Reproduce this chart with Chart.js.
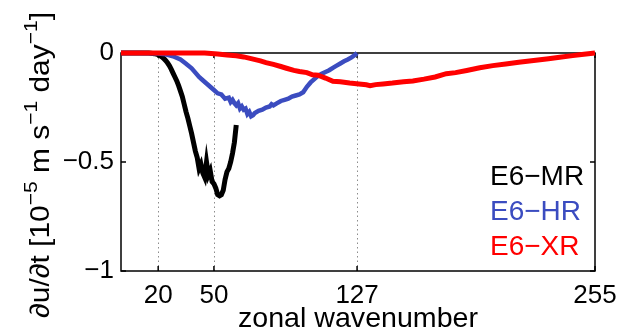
<!DOCTYPE html>
<html>
<head>
<meta charset="utf-8">
<script src="https://cdn.jsdelivr.net/npm/chart.js@4.4.0/dist/chart.umd.min.js"></script>
<style>
    html, body { margin: 0; padding: 0; background: #fff; }
</style>
</head>
<body>
<canvas id="chart" width="638" height="332"></canvas>
<script>
// series names and colours
const seriesNames = ['E6\u2212MR', 'E6\u2212HR', 'E6\u2212XR'];
const seriesColors = ['#000000', '#3b4cc0', '#ff0000'];
const seriesWidths = [5, 4.5, 5];

// E6-MR
const mrWave = [0, 15, 16, 17, 18, 19, 20, 21, 22, 23, 24, 25, 26, 27, 28, 29, 30, 31, 32, 33, 34, 35, 36, 37, 38, 39, 40,
    41, 42, 43, 44, 45, 46, 47, 48, 49, 50, 51, 52, 53, 54, 55, 56, 57, 58, 59, 60, 61, 62];
const mrRate = [0, 0, -0.001, -0.002, -0.003, -0.005, -0.008, -0.012, -0.018, -0.025, -0.034, -0.045, -0.058, -0.074, -0.092, -0.11, -0.128, -0.15, -0.175, -0.2, -0.235, -0.27, -0.3, -0.335, -0.37, -0.41, -0.45,
    -0.48, -0.53, -0.51, -0.55, -0.57, -0.5, -0.56, -0.54, -0.59, -0.6, -0.62, -0.65, -0.655, -0.65, -0.63, -0.58, -0.545, -0.53, -0.5, -0.46, -0.41, -0.33];

// E6-HR
const hrWave = [0, 10, 20, 24, 28, 32, 35, 38, 40, 42, 44, 46, 48, 50, 52, 54, 55, 56, 58, 59, 60, 61, 62, 63, 64, 65, 66, 67, 68, 69, 70,
    71, 72, 74, 76, 78, 80, 81, 82, 84, 86, 88, 90, 92, 94, 96, 98, 100, 102, 104, 106, 108, 110, 112, 114, 116, 118, 120, 122, 124, 126, 127];
const hrRate = [0, 0, -0.002, -0.006, -0.015, -0.03, -0.049, -0.07, -0.09, -0.11, -0.125, -0.14, -0.155, -0.17, -0.185, -0.19, -0.2, -0.21, -0.205, -0.225, -0.215, -0.23, -0.24, -0.23, -0.255, -0.245, -0.26, -0.255, -0.28, -0.27, -0.29,
    -0.285, -0.275, -0.265, -0.26, -0.25, -0.245, -0.235, -0.24, -0.23, -0.22, -0.215, -0.21, -0.2, -0.195, -0.19, -0.18, -0.155, -0.135, -0.12, -0.105, -0.095, -0.087, -0.079, -0.068, -0.058, -0.048, -0.038, -0.03, -0.02, -0.008, 0];

// E6-XR
const xrWave = [0, 45, 52, 57, 62, 66, 70, 75, 78, 82, 86, 89, 93, 96, 100, 103, 106, 110, 114, 118, 123, 128, 132, 134, 137, 141, 146, 152,
    157, 163, 169, 175, 180, 186, 193, 200, 207, 214, 222, 230, 237, 243, 249, 255];
const xrRate = [0, 0, -0.005, -0.009, -0.013, -0.018, -0.026, -0.036, -0.044, -0.052, -0.062, -0.07, -0.08, -0.085, -0.09, -0.1, -0.102, -0.115, -0.13, -0.132, -0.138, -0.142, -0.146, -0.15, -0.145, -0.142, -0.138, -0.132,
    -0.128, -0.12, -0.11, -0.095, -0.09, -0.08, -0.068, -0.058, -0.05, -0.042, -0.034, -0.026, -0.018, -0.012, -0.006, 0];

// axes
const xTicks = [20, 50, 127, 255];
const yTicks = [0, -0.5, -1];
const guideWaves = [20, 50, 127];
const xTitle = 'zonal wavenumber';
const yTitle = [
    { text: '\u2202u/\u2202t [10' }, { text: '\u22125', sup: true },
    { text: ' m s' }, { text: '\u22121', sup: true },
    { text: ' day' }, { text: '\u22121', sup: true },
    { text: ']' }
];

const fontFamily = "'Liberation Sans', Arial, sans-serif";
const seriesWaves = [mrWave, hrWave, xrWave];
const seriesRates = [mrRate, hrRate, xrRate];

function fmtTick(v) {
    if (v === 0) return '0';
    return (v < 0 ? '\u2212' : '') + Math.abs(v);
}

// draw text in pieces so that superscripts sit higher and smaller
function pieceWidth(ctx, pieces, size, supSize) {
    let w = 0;
    pieces.forEach(p => {
        ctx.font = (p.sup ? supSize : size) + 'px ' + fontFamily;
        w += ctx.measureText(p.text).width;
    });
    return w;
}

function fillPieces(ctx, pieces, size, supSize, rise) {
    let x = 0;
    pieces.forEach(p => {
        ctx.font = (p.sup ? supSize : size) + 'px ' + fontFamily;
        ctx.fillText(p.text, x, p.sup ? -rise : 0);
        x += ctx.measureText(p.text).width;
    });
}

const framePlugin = {
    id: 'frame',
    beforeDatasetsDraw(chart) {
        const ctx = chart.ctx;
        const a = chart.chartArea;
        const xs = chart.scales.x;
        const ys = chart.scales.y;
        ctx.save();

        // dotted guides
        ctx.strokeStyle = '#8c8c8c';
        ctx.lineWidth = 1;
        ctx.setLineDash([1.5, 3]);
        guideWaves.forEach(k => {
            const x = Math.round(xs.getPixelForValue(k)) + 0.5;
            ctx.beginPath();
            ctx.moveTo(x, ys.getPixelForValue(-1));
            ctx.lineTo(x, ys.getPixelForValue(0));
            ctx.stroke();
        });
        ctx.setLineDash([]);

        // box
        ctx.strokeStyle = '#000';
        ctx.lineWidth = 1.5;
        ctx.strokeRect(a.left, a.top, a.right - a.left, a.bottom - a.top);

        // inward ticks
        const len = 5;
        ctx.beginPath();
        xTicks.forEach(k => {
            const x = xs.getPixelForValue(k);
            ctx.moveTo(x, a.bottom); ctx.lineTo(x, a.bottom - len);
            ctx.moveTo(x, a.top); ctx.lineTo(x, a.top + len);
        });
        yTicks.forEach(v => {
            const y = ys.getPixelForValue(v);
            ctx.moveTo(a.left, y); ctx.lineTo(a.left + len, y);
            ctx.moveTo(a.right, y); ctx.lineTo(a.right - len, y);
        });
        ctx.stroke();
        ctx.restore();
    },
    afterDraw(chart) {
        const ctx = chart.ctx;
        const a = chart.chartArea;
        ctx.save();
        ctx.textBaseline = 'alphabetic';
        ctx.textAlign = 'left';

        // legend, plain coloured text
        ctx.font = '28px ' + fontFamily;
        seriesNames.forEach((name, i) => {
            ctx.fillStyle = seriesColors[i];
            ctx.fillText(name, a.right - 105, a.top + 132 + i * 35);
        });

        ctx.fillStyle = '#000';

        // x title
        ctx.font = '28px ' + fontFamily;
        const xw = ctx.measureText(xTitle).width;
        ctx.save();
        ctx.translate((a.left + a.right) / 2, 327);
        ctx.scale(240 / xw, 1);
        ctx.fillText(xTitle, -xw / 2, 0);
        ctx.restore();

        // y title, rotated
        const yw = pieceWidth(ctx, yTitle, 27, 19);
        ctx.save();
        ctx.translate(49, 165);
        ctx.rotate(-Math.PI / 2);
        ctx.scale(306 / yw, 1);
        ctx.translate(-yw / 2, 0);
        fillPieces(ctx, yTitle, 27, 19, 12);
        ctx.restore();

        ctx.restore();
    }
};

const chart = new Chart(document.getElementById('chart'), {
    type: 'line',
    data: {
        datasets: seriesNames.map((name, i) => ({
            label: name,
            data: seriesWaves[i].map((k, j) => ({ x: k, y: seriesRates[i][j] })),
            borderColor: seriesColors[i],
            borderWidth: seriesWidths[i],
            pointRadius: 0,
            tension: 0,
            fill: false,
            clip: false,
            order: 3 - i
        }))
    },
    options: {
        responsive: false,
        animation: false,
        devicePixelRatio: 1,
        layout: { padding: { top: 53, right: 43, left: 0, bottom: 0 } },
        plugins: {
            legend: { display: false },
            tooltip: { enabled: false }
        },
        scales: {
            x: {
                type: 'linear',
                min: 0,
                max: 255,
                afterBuildTicks: s => { s.ticks = xTicks.map(v => ({ value: v })); },
                afterFit: s => { s.height = 61; },
                grid: { display: false, drawTicks: false },
                border: { display: false },
                ticks: {
                    autoSkip: false,
                    maxRotation: 0,
                    padding: 9,
                    color: '#000',
                    font: { family: fontFamily, size: 26 }
                }
            },
            y: {
                type: 'linear',
                min: -1,
                max: 0,
                afterBuildTicks: s => { s.ticks = yTicks.map(v => ({ value: v })); },
                afterFit: s => { s.width = 121; },
                grid: { display: false, drawTicks: false },
                border: { display: false },
                ticks: {
                    padding: 7,
                    color: '#000',
                    font: { family: fontFamily, size: 26 },
                    callback: v => fmtTick(v)
                }
            }
        }
    },
    plugins: [framePlugin]
});
</script>
</body>
</html>
